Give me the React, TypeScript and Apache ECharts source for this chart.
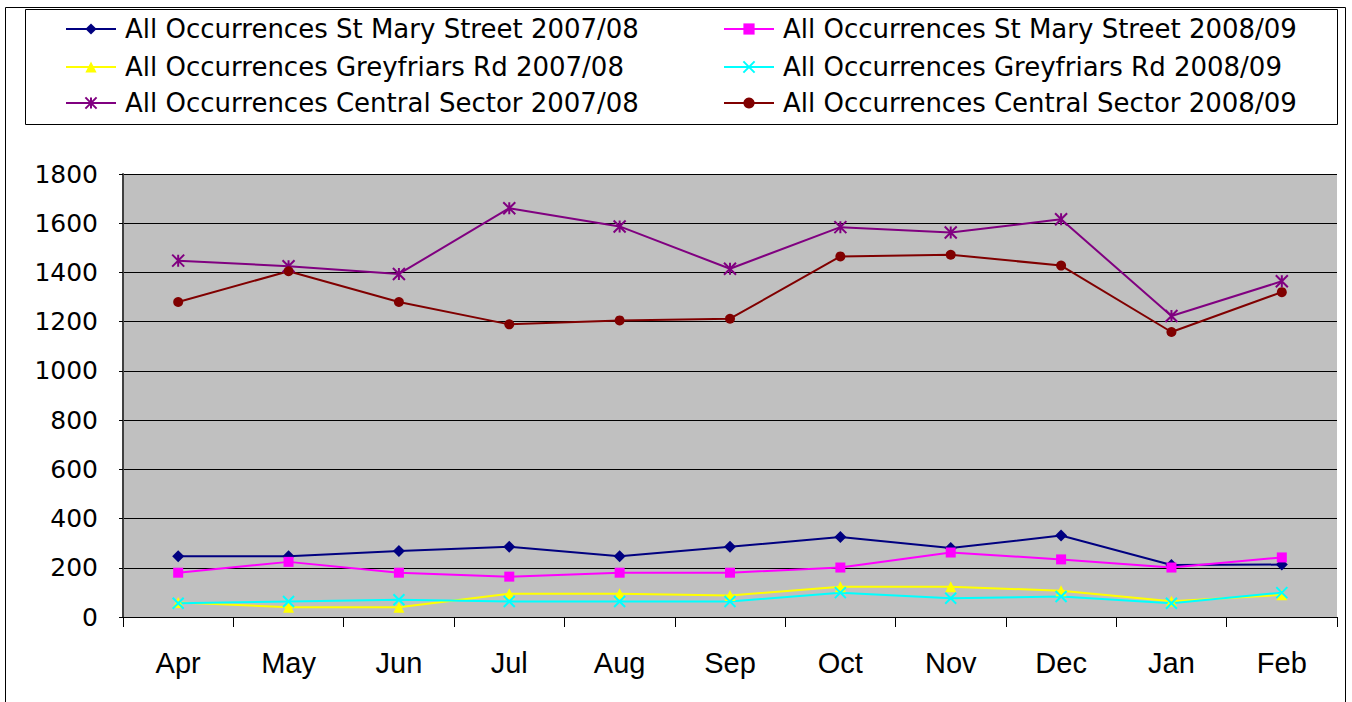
import React, { useEffect, useRef } from "react";
import * as echarts from "echarts";

const months = ["Apr", "May", "Jun", "Jul", "Aug", "Sep", "Oct", "Nov", "Dec", "Jan", "Feb"];
const stMary0708 = [247, 247, 268, 285, 247, 285, 325, 280, 331, 211, 213];
const stMary0809 = [180, 224, 180, 164, 180, 180, 201, 262, 234, 201, 242];
const grey0708 = [59, 40, 40, 94, 94, 87, 123, 123, 107, 64, 90];
const grey0809 = [56, 63, 70, 63, 63, 63, 99, 76, 83, 56, 99];
const central0708 = [1448, 1425, 1394, 1661, 1587, 1415, 1584, 1562, 1616, 1223, 1364];
const central0809 = [1280, 1405, 1280, 1189, 1205, 1212, 1465, 1472, 1428, 1158, 1320];
const yTicks = { min: 0, max: 1800, interval: 200 };

const seriesNames = [
  "All Occurrences St Mary Street 2007/08",
  "All Occurrences St Mary Street 2008/09",
  "All Occurrences Greyfriars Rd 2007/08",
  "All Occurrences Greyfriars Rd 2008/09",
  "All Occurrences Central Sector 2007/08",
  "All Occurrences Central Sector 2008/09",
];
const seriesData = [stMary0708, stMary0809, grey0708, grey0809, central0708, central0809];
const seriesColors = ["#000080", "#FF00FF", "#FFFF00", "#00FFFF", "#800080", "#800000"];
const seriesSymbols = [
  "diamond",
  "rect",
  "triangle",
  "path://M0,0L10,10M10,0L0,10",
  "path://M5,0L5,10M0,0L10,10M10,0L0,10",
  "circle",
];
const symbolSizes = [12, 10, 11, 11, 12, 10];

const FONT = "Liberation Sans, Arial, sans-serif";
const WIDE = "DejaVu Sans, sans-serif";

export default function App() {
  const ref = useRef<HTMLDivElement>(null);
  useEffect(() => {
    document.body.style.margin = "0";
    const chart = echarts.init(ref.current!, undefined, { renderer: "svg" });
    const legendPos = [
      { left: 65, top: 16 },
      { left: 723, top: 16 },
      { left: 65, top: 54 },
      { left: 723, top: 54 },
      { left: 65, top: 90 },
      { left: 723, top: 90 },
    ];
    const isStroke = (i: number) => i === 3 || i === 4;
    chart.setOption({
      animation: false,
      backgroundColor: "#ffffff",
      graphic: [
        {
          type: "rect",
          shape: { x: 5.5, y: 7.5, width: 1340, height: 710 },
          style: { fill: "none", stroke: "#000", lineWidth: 1 },
          silent: true,
        },
        {
          type: "rect",
          shape: { x: 25.5, y: 9.5, width: 1312, height: 115 },
          style: { fill: "none", stroke: "#000", lineWidth: 1 },
          silent: true,
        },
      ],
      legend: seriesNames.map((n, i) => ({
        data: [n],
        left: legendPos[i].left,
        top: legendPos[i].top,
        padding: 0,
        itemWidth: 50,
        itemHeight: 14,
        textStyle: { fontFamily: WIDE, fontSize: 26, color: "#000", padding: [0, 0, 0, 4] },
      })),
      grid: {
        left: 123,
        top: 174,
        width: 1214,
        height: 443,
        show: true,
        backgroundColor: "#C0C0C0",
        borderWidth: 0,
      },
      xAxis: {
        type: "category",
        data: months,
        boundaryGap: true,
        axisLine: { lineStyle: { color: "#000", width: 1 } },
        axisTick: { show: true, length: 10, inside: false, lineStyle: { color: "#000" } },
        axisLabel: { fontFamily: FONT, fontSize: 29, color: "#000", margin: 31 },
        splitLine: { show: false },
      },
      yAxis: {
        type: "value",
        min: yTicks.min,
        max: yTicks.max,
        interval: yTicks.interval,
        axisLine: { show: true, lineStyle: { color: "#404040", width: 2 } },
        axisTick: { show: true, length: 4, lineStyle: { color: "#000" } },
        axisLabel: {
          fontFamily: WIDE,
          fontSize: 25,
          color: "#000",
          margin: 25,
          formatter: (v: number) => String(v),
        },
        splitLine: { show: true, lineStyle: { color: "#000", width: 1 } },
      },
      series: seriesNames.map((n, i) => ({
        name: n,
        type: "line",
        data: seriesData[i],
        symbol: seriesSymbols[i],
        symbolSize: symbolSizes[i],
        showAllSymbol: true,
        lineStyle: { color: seriesColors[i], width: 2 },
        itemStyle: {
          color: seriesColors[i],
          borderColor: seriesColors[i],
          borderWidth: isStroke(i) ? 2 : 0,
        },
        emphasis: { disabled: true },
      })),
    });
    return () => chart.dispose();
  }, []);
  return <div ref={ref} style={{ width: 1352, height: 702 }} />;
}
